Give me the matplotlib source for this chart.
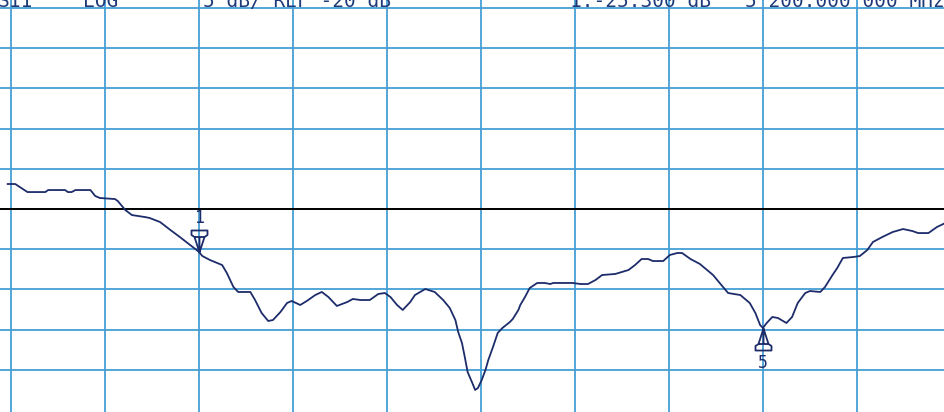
import numpy as np
import matplotlib
matplotlib.use('Agg')
import matplotlib.pyplot as plt
from matplotlib.path import Path

# Trace: x in graticule divisions, y in dB (5 dB/div, ref -20 dB)
trace_x = [-0.03, 0.05, 0.18, 0.37, 0.40, 0.58, 0.61, 0.65, 0.69, 0.85,
           0.90, 0.95, 1.11, 1.14, 1.22, 1.29, 1.43, 1.48, 1.59, 1.70,
           1.80, 1.91, 2.00, 2.04, 2.12, 2.25, 2.30, 2.37, 2.42, 2.55,
           2.60, 2.67, 2.74, 2.79, 2.87, 2.94, 2.99, 3.08, 3.15, 3.24,
           3.31, 3.38, 3.47, 3.58, 3.64, 3.72, 3.82, 3.91, 3.98, 4.04,
           4.11, 4.17, 4.25, 4.30, 4.41, 4.51, 4.60, 4.67, 4.73, 4.76,
           4.80, 4.83, 4.86, 4.91, 4.94, 4.97, 5.01, 5.05, 5.08, 5.13,
           5.18, 5.23, 5.31, 5.34, 5.40, 5.42, 5.47, 5.52, 5.60, 5.68,
           5.74, 5.77, 5.98, 6.06, 6.14, 6.22, 6.29, 6.43, 6.50, 6.57,
           6.64, 6.71, 6.78, 6.83, 6.94, 7.01, 7.09, 7.14, 7.23, 7.33,
           7.47, 7.54, 7.63, 7.76, 7.86, 7.92, 7.97, 8.00, 8.04, 8.10,
           8.16, 8.25, 8.31, 8.37, 8.45, 8.50, 8.61, 8.66, 8.74, 8.79,
           8.85, 8.96, 9.03, 9.11, 9.17, 9.27, 9.38, 9.49, 9.59, 9.65,
           9.76, 9.85, 9.94, 10.0]
trace_db = [-16.89, -16.89, -17.89, -17.89, -17.64, -17.64, -17.89, -17.89, -17.64, -17.64,
            -18.38, -18.63, -18.76, -19.00, -20.12, -20.75, -21.00, -21.12, -21.62, -22.61,
            -23.48, -24.48, -25.30, -25.85, -26.34, -26.97, -27.96, -29.70, -30.32, -30.32,
            -31.32, -32.94, -33.93, -33.81, -32.81, -31.69, -31.44, -31.94, -31.44, -30.70,
            -30.32, -30.95, -32.06, -31.57, -31.19, -31.32, -31.32, -30.57, -30.45, -30.95,
            -31.94, -32.56, -31.57, -30.70, -29.95, -30.32, -31.32, -32.31, -33.81, -35.30,
            -36.67, -38.41, -40.27, -41.64, -42.51, -42.26, -41.27, -40.02, -38.78, -37.16,
            -35.42, -34.80, -34.05, -33.68, -32.56, -31.94, -30.95, -29.83, -29.20, -29.20,
            -29.33, -29.20, -29.20, -29.33, -29.33, -28.83, -28.21, -28.08, -27.84, -27.59,
            -26.97, -26.22, -26.22, -26.47, -26.47, -25.72, -25.47, -25.47, -26.22, -26.84,
            -28.21, -29.20, -30.45, -30.70, -31.69, -32.94, -34.43, -34.80, -34.18, -33.43,
            -33.56, -34.18, -33.43, -31.69, -30.45, -30.20, -30.32, -29.70, -28.21, -27.34,
            -26.09, -25.97, -25.85, -25.10, -24.10, -23.48, -22.86, -22.49, -22.74, -22.99,
            -22.99, -22.24, -21.74, -21.50]

ref_db = -20
db_per_div = 5
marker_names = ['1', '5']
marker_x = [2.0, 8.0]
marker_db = [-25.3, -34.8]

header = ['S11', 'LOG', '5 dB/ REF -20 dB', '1:-25.300 dB', '5 200.000 000 MHz']
header_px = [-2, 83, 203, 570, 945]

grid_col = '#459fd6'
trace_col = '#1d2c6a'
text_col = '#1f3a78'

fig = plt.figure(figsize=(9.45, 4.12), dpi=100)
ax = fig.add_axes([0, 0, 1, 1])
ax.set_xlim(-0.112, 9.936)
ax.set_ylim(-45.25, 6.0)

ax.set_xticks(np.arange(0, 10))
ax.set_yticks(np.arange(ref_db - 4 * db_per_div, ref_db + 6 * db_per_div, db_per_div))
ax.grid(True, color=grid_col, lw=1.3)
ax.tick_params(length=0, labelleft=False, labelbottom=False)
for s in ax.spines.values():
    s.set_visible(False)

ax.axhline(ref_db, color='black', lw=1.4, zorder=3)
ax.plot(trace_x, trace_db, color=trace_col, lw=1.3, zorder=4)

# marker triangles, tip sits on the trace
down = Path([(0, 0), (-5, 15.5), (-8, 17.5), (-8, 22), (8, 22), (8, 17.5), (5, 15.5), (0, 0),
             (-5, 15.5), (5, 15.5), (0, 0), (0, 15.5)],
            [Path.MOVETO] + [Path.LINETO] * 7 + [Path.MOVETO, Path.LINETO, Path.MOVETO, Path.LINETO])
up = Path(down.vertices * [1, -1], down.codes)
for name, mx, my in zip(marker_names, marker_x, marker_db):
    shape = down if name == '1' else up
    ax.plot([mx], [my], marker=shape, ms=31.7, mfc='none', mec=trace_col, mew=1.3,
            linestyle='none', zorder=5)
    dy = 24 if name == '1' else -25
    ax.annotate(name, (mx, my), xytext=(0, dy), textcoords='offset points',
                ha='center', va='center', fontsize=12, color=trace_col,
                family='DejaVu Sans Mono', zorder=6)

for s, px in zip(header, header_px):
    ha = 'right' if px == 945 else 'left'
    fig.text(px / 945, 1 - 7 / 412, s, ha=ha, va='baseline', fontsize=14,
             family='DejaVu Sans Mono', color=text_col)

fig.savefig('out.png', dpi=100)
